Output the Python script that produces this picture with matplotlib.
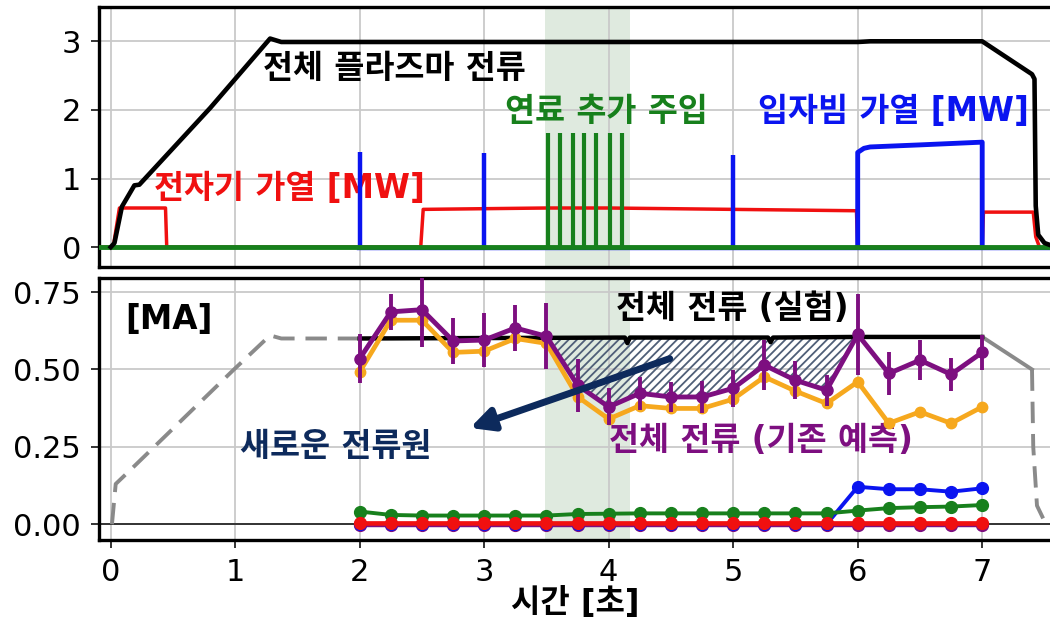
import matplotlib
matplotlib.use("Agg")
import matplotlib.pyplot as plt

plt.rcParams["font.family"] = ["DejaVu Sans", "Noto Sans CJK KR"]
plt.rcParams["hatch.linewidth"] = 1.3

# ---------------- top panel: discharge waveforms ----------------
ip_t = [0.0, 0.03, 0.09, 0.19, 0.23, 0.80, 1.28, 1.37, 3.0, 5.0, 6.0, 6.1, 7.0,
        7.40, 7.42, 7.43, 7.45, 7.50, 7.56]
ip_v = [0.0, 0.06, 0.59, 0.90, 0.91, 2.03, 3.04, 2.99, 2.99, 2.99, 2.99, 3.00, 3.00,
        2.52, 2.45, 0.60, 0.18, 0.06, 0.02]

ech_t = [-0.1, 0.02, 0.07, 0.44, 0.45, 2.49, 2.51, 3.0, 3.5, 4.0, 5.0, 5.99, 6.0,
         7.0, 7.01, 7.41, 7.43, 7.46]
ech_v = [0.0, 0.0, 0.57, 0.57, 0.0, 0.0, 0.55, 0.56, 0.57, 0.57, 0.55, 0.53, 0.0,
         0.0, 0.51, 0.51, 0.15, 0.0]

nbi_blip_t = [2.0, 3.0, 5.0]
nbi_blip_v = [1.39, 1.37, 1.34]
nbi_pulse_t = [6.0, 6.0, 6.05, 6.1, 6.5, 7.0, 7.0]
nbi_pulse_v = [0.0, 1.38, 1.44, 1.46, 1.49, 1.53, 0.0]
nbi_base_t = [1.98, 7.6]
nbi_base_v = [-0.03, -0.03]

puff_t = [3.51, 3.61, 3.71, 3.80, 3.90, 4.01, 4.11]
puff_v = [1.66, 1.66, 1.66, 1.66, 1.66, 1.66, 1.66]
gas_base_t = [-0.2, 7.7]
gas_base_v = [0.0, 0.0]
puff_window = [3.49, 4.17]

# ---------------- bottom panel: current components [MA] ----------------
t_fit = [2.0, 2.25, 2.5, 2.75, 3.0, 3.25, 3.5, 3.75, 4.0, 4.25, 4.5,
         4.75, 5.0, 5.25, 5.5, 5.75, 6.0, 6.25, 6.5, 6.75, 7.0]
i_total_new = [0.535, 0.686, 0.693, 0.592, 0.595, 0.634, 0.607, 0.449, 0.379, 0.423, 0.411,
               0.411, 0.439, 0.514, 0.465, 0.433, 0.613, 0.487, 0.530, 0.484, 0.555]
i_total_err = [0.079, 0.057, 0.120, 0.074, 0.087, 0.075, 0.107, 0.085, 0.060, 0.054, 0.049,
               0.053, 0.060, 0.080, 0.062, 0.050, 0.130, 0.068, 0.065, 0.054, 0.057]
i_total_old = [0.492, 0.659, 0.659, 0.555, 0.559, 0.600, 0.584, 0.412, 0.340, 0.383, 0.374,
               0.374, 0.404, 0.476, 0.430, 0.390, 0.460, 0.326, 0.363, 0.326, 0.379]
i_green = [0.041, 0.030, 0.028, 0.028, 0.028, 0.028, 0.028, 0.033, 0.034, 0.035, 0.035,
           0.035, 0.035, 0.035, 0.035, 0.035, 0.044, 0.052, 0.055, 0.057, 0.062]
i_blue = [0.0, 0.0, 0.0, 0.0, 0.0, 0.0, 0.0, 0.0, 0.0, 0.0, 0.0,
          0.0, 0.0, 0.0, 0.0, 0.0, 0.121, 0.113, 0.113, 0.105, 0.116]
i_red = [0.003, 0.003, 0.003, 0.003, 0.003, 0.003, 0.003, 0.003, 0.003, 0.003, 0.003,
         0.003, 0.003, 0.003, 0.003, 0.003, 0.003, 0.003, 0.003, 0.003, 0.003]
i_purple_small = [-0.002, -0.002, -0.002, -0.002, -0.002, -0.002, -0.002, -0.002, -0.002,
                  -0.002, -0.002, -0.002, -0.002, -0.002, -0.002, -0.002, -0.002,
                  -0.002, -0.002, -0.002, -0.002]

exp_t = [2.0, 4.13, 4.15, 4.17, 5.28, 5.30, 5.32, 6.0, 7.0]
exp_v = [0.600, 0.603, 0.585, 0.603, 0.603, 0.588, 0.603, 0.605, 0.605]
ramp_t = [0.01, 0.04, 0.17, 0.99, 1.28, 1.37, 2.0]
ramp_v = [0.0, 0.13, 0.18, 0.50, 0.61, 0.60, 0.60]
decay_t = [7.0, 7.40]
decay_v = [0.605, 0.50]
decay_dash_t = [7.40, 7.41, 7.44, 7.50, 7.56]
decay_dash_v = [0.50, 0.25, 0.06, 0.01, 0.0]

RED = "#f01010"
GREEN = "#17801c"
BLUE = "#0a14f0"
PURPLE = "#7d0f80"
ORANGE = "#f6a81e"
NAVY = "#0d2a5c"
GRAY = "#8a8a8a"

fig = plt.figure(figsize=(10.5, 6.25), dpi=100)
ax1 = fig.add_axes([0.0943, 0.5728, 0.9067, 0.416])
ax2 = fig.add_axes([0.0943, 0.136, 0.9067, 0.419])

xlim = (-0.094, 7.553)
for ax in (ax1, ax2):
    ax.set_xlim(*xlim)
    ax.set_xticks(range(0, 8))
    ax.grid(True, color="#c9c9c9", lw=1.3)
    ax.set_axisbelow(True)
    ax.axvspan(puff_window[0], puff_window[1], color="#dfeadf", zorder=0, lw=0)
    for s in ax.spines.values():
        s.set_linewidth(2.4)
        s.set_color("black")
    ax.tick_params(labelsize=22, length=6, width=1.4, color="#333333", pad=7)

# top panel
ax1.set_ylim(-0.29, 3.5)
ax1.set_yticks([0, 1, 2, 3])
ax1.tick_params(axis="x", labelbottom=False, length=0)
ax1.plot(nbi_base_t, nbi_base_v, color=BLUE, lw=1.0, zorder=2)
ax1.plot(ech_t, ech_v, color=RED, lw=2.5, zorder=3)
ax1.vlines(nbi_blip_t, 0, nbi_blip_v, color=BLUE, lw=3.2, zorder=4)
ax1.plot(nbi_pulse_t, nbi_pulse_v, color=BLUE, lw=3.5, zorder=4)
ax1.vlines(puff_t, 0, puff_v, color=GREEN, lw=3.0, zorder=5)
ax1.plot(gas_base_t, gas_base_v, color=GREEN, lw=3.5, zorder=5)
ax1.plot(ip_t, ip_v, color="black", lw=3.3, zorder=6)

tkw = dict(fontsize=23.5, fontweight="bold", va="center", ha="left")
ax1.text(1.225, 2.61, "전체 플라즈마 전류", color="black", **tkw)
ax1.text(3.17, 1.98, "연료 추가 주입", color=GREEN, **tkw)
ax1.text(5.20, 1.98, "입자빔 가열 [MW]", color=BLUE, **tkw)
ax1.text(0.35, 0.85, "전자기 가열 [MW]", color=RED, **tkw)

# bottom panel
ax2.set_ylim(-0.051, 0.795)
ax2.set_yticks([0.0, 0.25, 0.5, 0.75])
ax2.set_yticklabels(["0.00", "0.25", "0.50", "0.75"])
ax2.axhline(0, color="#333333", lw=1.4, zorder=1)

dash = (0, (5.5, 2.8))
ax2.plot(ramp_t, ramp_v, color=GRAY, lw=2.8, ls=dash, zorder=3)
ax2.plot(decay_t, decay_v, color=GRAY, lw=2.8, zorder=3)
ax2.plot(decay_dash_t, decay_dash_v, color=GRAY, lw=2.8, ls=dash, zorder=3)

ax2.fill_between(t_fit[6:17], i_total_new[6:17], [exp_v[-1]] * 11,
                 where=[v < exp_v[-1] for v in i_total_new[6:17]], interpolate=True,
                 facecolor="none", edgecolor="#4f5f78", hatch="////", lw=0, zorder=2)
ax2.plot(exp_t, exp_v, color="black", lw=3.2, zorder=4)

ax2.plot(t_fit, i_total_old, color=ORANGE, lw=3.4, marker="o", ms=7.5, zorder=5)
ax2.errorbar(t_fit, i_total_new, yerr=i_total_err, color=PURPLE, lw=3.5,
             elinewidth=2.8, capsize=0, marker="o", ms=8, zorder=6)

ax2.plot(t_fit, i_purple_small, color=PURPLE, lw=3.2, marker="o", ms=8.5, zorder=5)
ax2.plot(t_fit[15:], i_blue[15:], color=BLUE, lw=2.8, marker="o", ms=8.5, zorder=6)
ax2.plot(t_fit[:15], i_blue[:15], color=BLUE, lw=2.8, marker="o", ms=8.5, zorder=5)
ax2.plot(t_fit, i_green, color=GREEN, lw=2.8, marker="o", ms=8.5, zorder=6)
ax2.plot(t_fit, i_red, color=RED, lw=3.4, marker="o", ms=8.5, zorder=7)

ax2.annotate("", xy=(2.886, 0.311), xytext=(4.49, 0.535),
             arrowprops=dict(arrowstyle="-|>", color=NAVY, lw=5, mutation_scale=34,
                             shrinkA=0, shrinkB=0), zorder=8)

ax2.text(0.115, 0.66, "[MA]", color="black", **tkw)
ax2.text(4.06, 0.697, "전체 전류 (실험)", color="black", **tkw)
ax2.text(1.04, 0.25, "새로운 전류원", color=NAVY, **tkw)
ax2.text(4.00, 0.269, "전체 전류 (기존 예측)", color=PURPLE, **tkw)

ax2.set_xlabel("시간 [초]", fontsize=23, fontweight="bold", labelpad=0)

fig.savefig("out.png", dpi=100)
